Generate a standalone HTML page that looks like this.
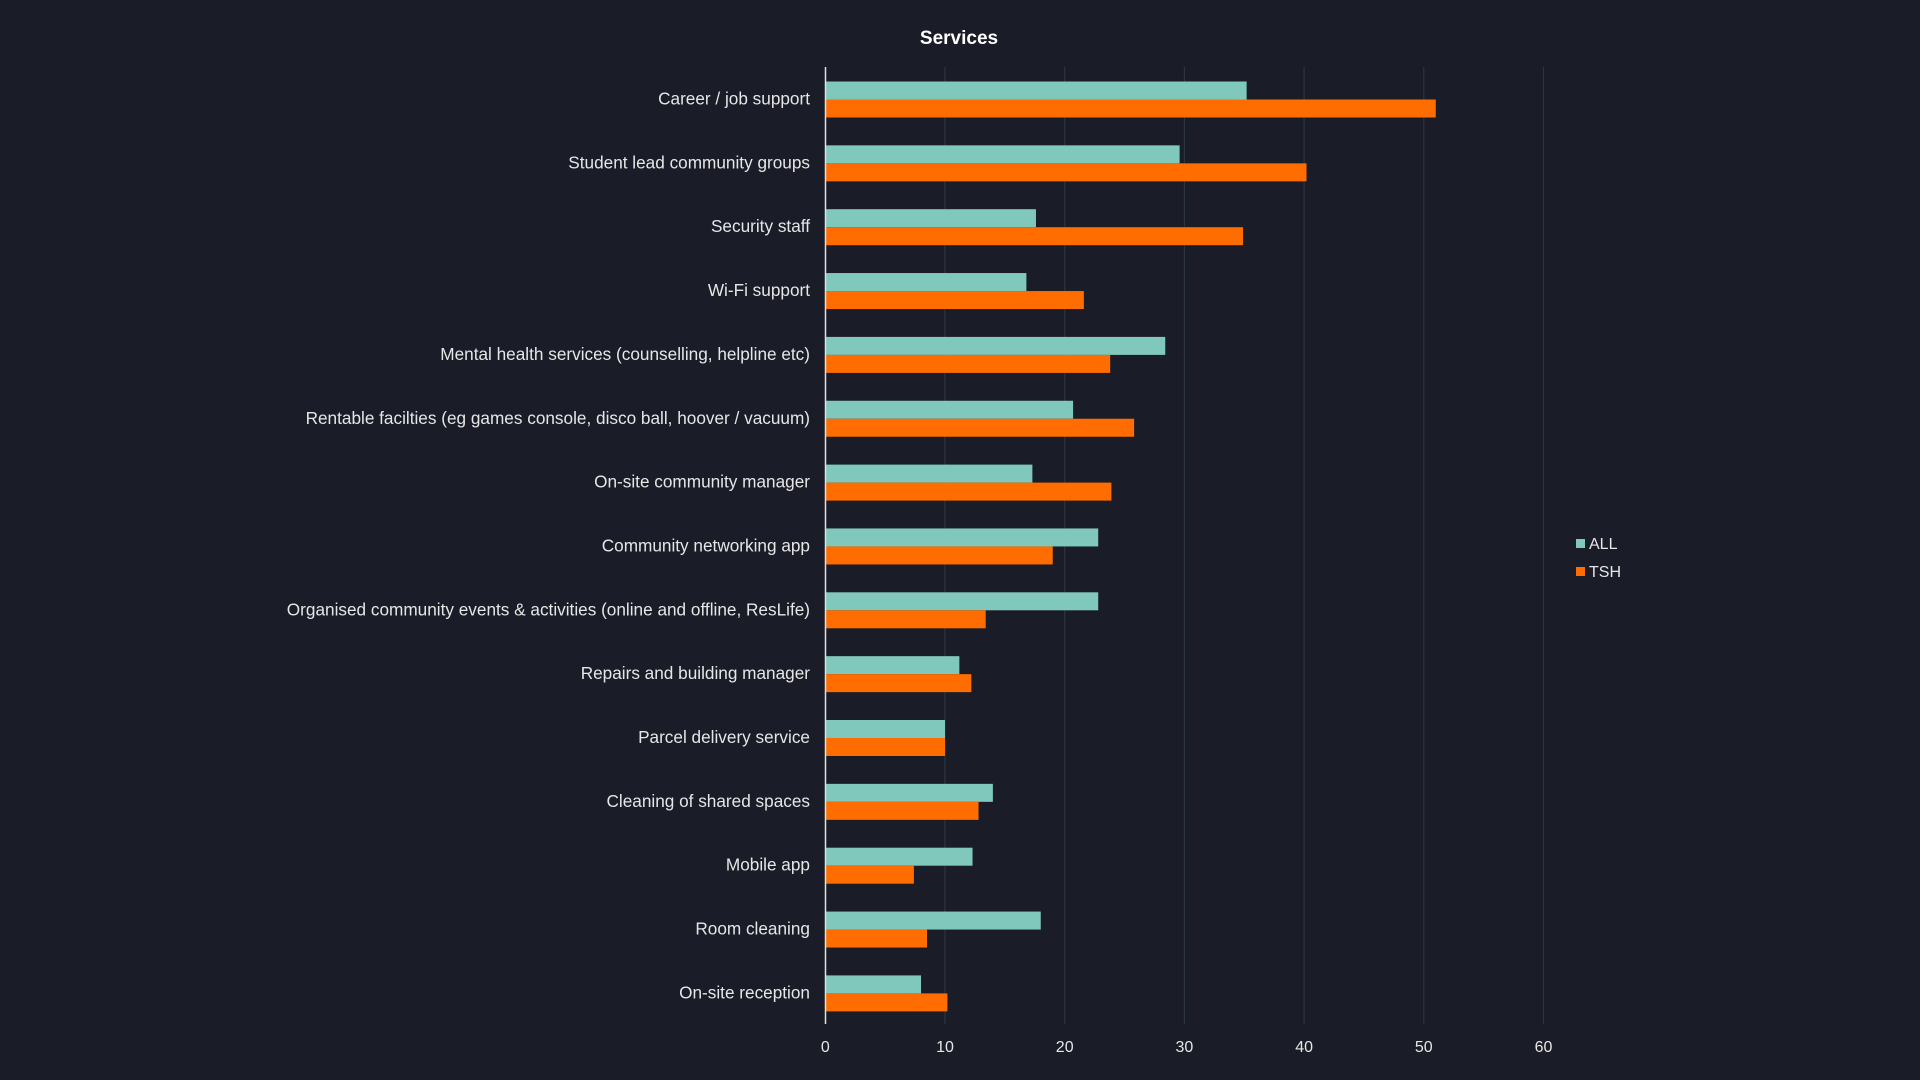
<!DOCTYPE html>
<html><head><meta charset="utf-8"><style>
html,body{margin:0;padding:0;background:#1a1c27;width:1920px;height:1080px;overflow:hidden;font-family:"Liberation Sans",sans-serif}
</style></head><body>
<svg id="chart" width="1920" height="1080" xmlns="http://www.w3.org/2000/svg">
<rect width="1920" height="1080" fill="#1a1c27"/>
<text x="959" y="44" fill="#ffffff" font-size="19" font-weight="bold" text-anchor="middle">Services</text>
<g id="grid"></g><g id="bars"></g><g id="labels"></g><g id="ticks"></g>
<line x1="825.5" y1="67" x2="825.5" y2="1024" stroke="#e0e0e0" stroke-width="1.5"/>
<g>
<rect x="1576" y="539" width="9" height="9" fill="#7fc8bb"/>
<text x="1589" y="549" fill="#e6e6e6" font-size="16">ALL</text>
<rect x="1576" y="567" width="9" height="9" fill="#ff6d00"/>
<text x="1589" y="577" fill="#e6e6e6" font-size="16">TSH</text>
</g>
</svg>
<script>
const categories=["Career / job support","Student lead community groups","Security staff","Wi-Fi support","Mental health services (counselling, helpline etc)","Rentable facilties (eg games console, disco ball, hoover / vacuum)","On-site community manager","Community networking app","Organised community events & activities (online and offline, ResLife)","Repairs and building manager","Parcel delivery service","Cleaning of shared spaces","Mobile app","Room cleaning","On-site reception"];
const allValues=[35.2,29.6,17.6,16.8,28.4,20.7,17.3,22.8,22.8,11.2,10.0,14.0,12.3,18.0,8.0];
const tshValues=[51.0,40.2,34.9,21.6,23.8,25.8,23.9,19.0,13.4,12.2,10.0,12.8,7.4,8.5,10.2];
const tickValues=[0,10,20,30,40,50,60];
const NS="http://www.w3.org/2000/svg";
const x0=825.3,pxPerUnit=11.97,yTop=99.5,step=63.85,barH=18;
function xs(v){return x0+v*pxPerUnit;}
function yc(i){return yTop+i*step;}
function mk(t,a){const e=document.createElementNS(NS,t);for(const k in a)e.setAttribute(k,a[k]);return e;}
const grid=document.getElementById('grid'),bars=document.getElementById('bars'),labels=document.getElementById('labels'),ticks=document.getElementById('ticks');
tickValues.forEach(v=>{
 if(v>0){const l=mk('line',{x1:xs(v),x2:xs(v),y1:67,y2:1024,stroke:'#2c3440','stroke-width':1.2});
 
 
 grid.appendChild(l);}
 const t=mk('text',{x:xs(v),y:1052,fill:'#e6e6e6','font-size':16,'text-anchor':'middle'});t.textContent=v;
 
 
 ticks.appendChild(t);
});
categories.forEach((c,i)=>{
 const c0=yc(i);
 const a=mk('rect',{x:x0,y:c0-barH,width:xs(allValues[i])-x0,height:barH,fill:'#7fc8bb'});
 
 
 bars.appendChild(a);
 const b=mk('rect',{x:x0,y:c0,width:xs(tshValues[i])-x0,height:barH,fill:'#ff6d00'});
 
 
 bars.appendChild(b);
 const t=mk('text',{x:810,y:c0+5,fill:'#e6e6e6','font-size':17.2,'text-anchor':'end'});t.textContent=c;
 
 
 labels.appendChild(t);
});
</script>
</body></html>
